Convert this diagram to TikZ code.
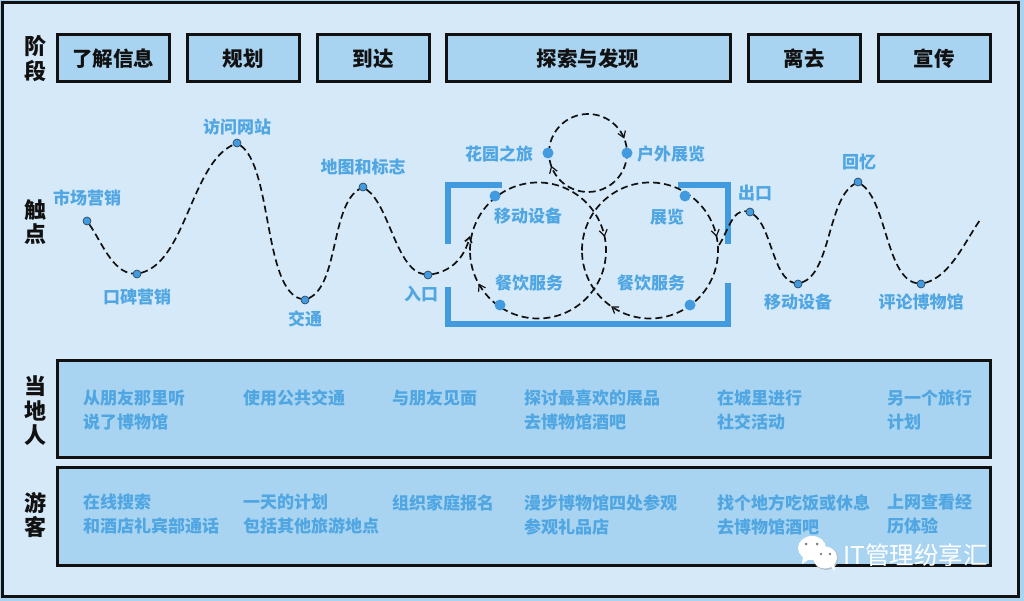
\documentclass[tikz,border=0pt]{standalone}
\usepackage{fontspec}
\setmainfont{Noto Sans CJK SC}
\usetikzlibrary{arrows.meta,decorations.markings}
\definecolor{pagebg}{HTML}{D6E9F8}
\definecolor{boxfill}{HTML}{A8D4F1}
\definecolor{txtblue}{HTML}{4FA6E2}
\definecolor{dotblue}{HTML}{429BDF}
\definecolor{ink}{HTML}{111111}
\tikzset{
  x=1pt,y=1pt,
  stagebox/.style={draw=ink,line width=3pt,fill=boxfill,minimum height=47pt,inner sep=0pt,font=\fontsize{20.5}{22}\selectfont\bfseries,text=ink},
  rowbox/.style={draw=ink,line width=3pt,fill=boxfill},
  sidelabel/.style={font=\fontsize{22}{24.5}\selectfont\bfseries,text=ink,align=center,inner sep=0pt},
  tlabel/.style={font=\fontsize{17}{24}\selectfont\bfseries,text=txtblue,inner sep=0pt},
  rowtext/.style={tlabel,align=left,anchor=north west},
  wavedot/.style={circle,fill=dotblue,draw=ink!70!dotblue,line width=0.6pt,minimum size=8pt,inner sep=0pt},
  loopdot/.style={circle,fill=dotblue,minimum size=11pt,inner sep=0pt},
  flow/.style={draw=ink,line width=1.7pt,dash pattern=on 7pt off 4pt},
  bracketline/.style={draw=dotblue,line width=6pt},
  tiptwo/.style 2 args={postaction={decorate},decoration={markings,mark=at position #1 with {\arrow[solid,line width=1.2pt]{Straight Barb[length=6pt,width=8pt]}},mark=at position #2 with {\arrow[solid,line width=1.2pt]{Straight Barb[length=6pt,width=8pt]}}}},
}
\begin{document}
\begin{tikzpicture}
\useasboundingbox (0,-601) rectangle (1024,0);
\fill[boxfill] (0,-601) rectangle (1024,0);
\draw[draw=ink,line width=3pt,fill=pagebg] (2.5,-2.5) rectangle (1018,-596);

% stages
\node[stagebox,minimum width=112pt] (s1) at (113,-58.5) {了解信息};
\node[stagebox,minimum width=112pt] (s2) at (243,-58.5) {规划};
\node[stagebox,minimum width=112pt] (s3) at (373,-58.5) {到达};
\node[stagebox,minimum width=284pt] (s4) at (588,-58.5) {探索与发现};
\node[stagebox,minimum width=112pt] (s5) at (804,-58.5) {离去};
\node[stagebox,minimum width=112pt] (s6) at (934,-58.5) {宣传};

% side labels
\node[sidelabel] (l1) at (35.5,-58.5) {阶\\段};
\node[sidelabel] (l2) at (35.5,-222) {触\\点};
\node[sidelabel] (l3) at (35.5,-411) {当\\地\\人};
\node[sidelabel] (l4) at (35.5,-515) {游\\客};

% brackets
\draw[bracketline] (502,-185) -- (448,-185) -- (448,-244);
\draw[bracketline] (448,-287) -- (448,-324) -- (728,-324) -- (728,-283);
\draw[bracketline] (678,-185) -- (728,-185) -- (728,-244);

% wave dots
\node[wavedot] (w1) at (87,-221) {};
\node[wavedot] (w2) at (137,-274) {};
\node[wavedot] (w3) at (237,-143) {};
\node[wavedot] (w4) at (305,-300) {};
\node[wavedot] (w5) at (363,-187) {};
\node[wavedot] (w6) at (428,-275) {};
\coordinate (enter) at (470,-236);
\coordinate (leave) at (719,-245);
\node[wavedot] (w7) at (750,-212) {};
\node[wavedot] (w8) at (798,-284) {};
\node[wavedot] (w9) at (858,-182) {};
\node[wavedot] (w10) at (921,-284) {};
\coordinate (wend) at (980,-220);

% wave
\draw[flow] (w1) to[out=-55,in=175,looseness=0.8] (w2);
\draw[flow] (w2) to[out=15,in=205,looseness=0.75] (w3);
\draw[flow] (w3) to[out=-35,in=165,looseness=0.6] (w4);
\draw[flow] (w4) to[out=25,in=210,looseness=0.7] (w5);
\draw[flow] (w5) to[out=-35,in=170,looseness=0.7] (w6);
\draw[flow,-{Straight Barb[length=5pt,width=7pt]}] (w6) to[out=10,in=-105] (enter);
\draw[flow] (leave) to[out=55,in=170,looseness=0.8] (w7);
\draw[flow] (w7) to[out=-35,in=165,looseness=0.7] (w8);
\draw[flow] (w8) to[out=20,in=210,looseness=0.7] (w9);
\draw[flow] (w9) to[out=-35,in=170,looseness=0.7] (w10);
\draw[flow] (w10) to[out=15,in=-125,looseness=0.8] (wend);

% loops
\draw[flow,tiptwo={0.44}{0.947}] (549,-153) arc[start angle=180,end angle=-180,radius=39];
\draw[flow,tiptwo={0.468}{0.919}] (470,-250.5) arc[start angle=180,end angle=-180,radius=68];
\draw[flow,tiptwo={0.468}{0.847}] (582,-250.5) arc[start angle=180,end angle=-180,radius=68];

% loop dots
\node[loopdot] (d1) at (548,-153) {};
\node[loopdot] (d2) at (627,-153) {};
\node[loopdot] (d3) at (495,-196) {};
\node[loopdot] (d4) at (685,-196) {};
\node[loopdot] (d5) at (500,-305) {};
\node[loopdot] (d6) at (690,-305) {};

% touchpoint labels
\node[tlabel] (t1) at (87,-198) {市场营销};
\node[tlabel] (t2) at (137,-297) {口碑营销};
\node[tlabel] (t3) at (237,-127) {访问网站};
\node[tlabel] (t4) at (305,-319) {交通};
\node[tlabel] (t5) at (363,-167) {地图和标志};
\node[tlabel] (t6) at (421,-294) {入口};
\node[tlabel] (t7) at (528,-216) {移动设备};
\node[tlabel] (t8) at (529,-283) {餐饮服务};
\node[tlabel] (t9) at (651,-283) {餐饮服务};
\node[tlabel] (t10) at (667,-217) {展览};
\node[tlabel] (t11) at (499,-154) {花园之旅};
\node[tlabel] (t12) at (671,-154) {户外展览};
\node[tlabel] (t13) at (755,-193) {出口};
\node[tlabel] (t14) at (798,-302) {移动设备};
\node[tlabel] (t15) at (859,-162) {回忆};
\node[tlabel] (t16) at (921,-302) {评论博物馆};

% rows
\node[rowbox,minimum width=933pt,minimum height=97pt] (r1) at (523.5,-408.5) {};
\node[rowbox,minimum width=933pt,minimum height=98pt] (r2) at (523.5,-516) {};

\node[rowtext] (a1) at (83,-389.5) {从朋友那里听\\说了博物馆};
\node[rowtext] (a2) at (243,-389.5) {使用公共交通};
\node[rowtext] (a3) at (392,-389.5) {与朋友见面};
\node[rowtext] (a4) at (524,-389.5) {探讨最喜欢的展品\\去博物馆酒吧};
\node[rowtext] (a5) at (717,-389.5) {在城里进行\\社交活动};
\node[rowtext] (a6) at (887,-389.5) {另一个旅行\\计划};

\node[rowtext] (b1) at (83,-494) {在线搜索\\和酒店礼宾部通话};
\node[rowtext] (b2) at (243,-494) {一天的计划\\包括其他旅游地点};
\node[rowtext] (b3) at (392,-494) {组织家庭报名};
\node[rowtext] (b4) at (524,-494) {漫步博物馆四处参观\\参观礼品店};
\node[rowtext] (b5) at (717,-494) {找个地方吃饭或休息\\去博物馆酒吧};
\node[rowtext] (b6) at (887,-494) {上网查看经\\历体验};

% watermark
\fill[white] (812,-548) ellipse[x radius=14,y radius=12];
\fill[white] (803,-556) -- (802,-564) -- (811,-558) -- cycle;
\fill[pagebg!60!gray] (826,-558.5) ellipse[x radius=12.5,y radius=11.5];
\fill[white] (825,-557.5) ellipse[x radius=12,y radius=11];
\fill[white] (829,-565) -- (835,-571) -- (834,-563) -- cycle;
\fill[gray] (806,-544) circle[radius=1.5] (817,-544) circle[radius=1.5] (821,-554) circle[radius=1.3] (830,-554) circle[radius=1.3];
\node[anchor=west,inner sep=0pt,text=white,font=\fontsize{24.5}{26}\selectfont] (wm) at (843,-555) {IT管理纷享汇};
\end{tikzpicture}
\end{document}
